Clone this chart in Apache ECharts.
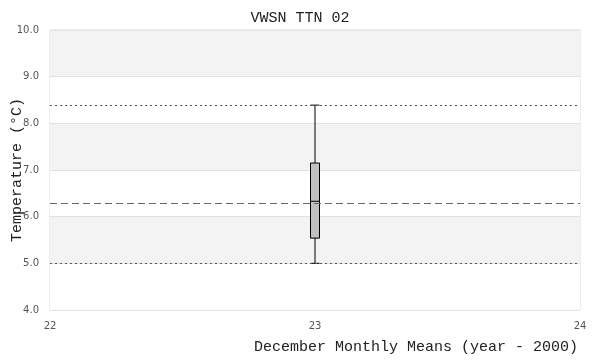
<!DOCTYPE html>
<html>
<head>
<meta charset="utf-8">
<script src="https://cdn.jsdelivr.net/npm/echarts@6/dist/echarts.min.js"></script>
<style>html,body{margin:0;padding:0;background:#fff}#c{width:600px;height:360px}</style>
</head>
<body>
<div id="c"></div>
<script>
const years = [23];
const whiskerLow = [5.0];
const q1 = [5.54];
const median = [6.33];
const q3 = [7.15];
const whiskerHigh = [8.39];
const meanValue = 6.29;
const maxValue = 8.39;
const minValue = 5.0;
const xTicks = [22, 23, 24];
const yTicks = [4, 5, 6, 7, 8, 9, 10];

const mono = '"Liberation Mono", "DejaVu Sans Mono", monospace';
const boxData = years.map((y, i) => [y, whiskerLow[i], q1[i], median[i], q3[i], whiskerHigh[i]]);

const chart = echarts.init(document.getElementById('c'), null, {renderer: 'canvas'});
chart.setOption({
  animation: false,
  backgroundColor: '#fff',
  title: {
    text: 'VWSN TTN 02',
    left: 'center',
    top: 6,
    textStyle: {fontFamily: mono, fontSize: 15, fontWeight: 'normal', color: '#222'}
  },
  grid: {left: 50, right: 20, top: 30, bottom: 50, containLabel: false, outerBoundsMode: 'none', show: true, borderColor: '#dcdcdc', borderWidth: 1, backgroundColor: 'transparent'},
  xAxis: {
    type: 'value',
    min: xTicks[0], max: xTicks[xTicks.length - 1], interval: 1,
    axisLine: {show: false},
    axisTick: {show: false},
    splitLine: {show: false},
    axisLabel: {color: '#555', fontSize: 10, margin: 11, fontFamily: '"DejaVu Sans", sans-serif'},
    name: 'December Monthly Means (year - 2000)',
    nameLocation: 'end',
    nameGap: -2,
    nameMoveOverlap: false,
    nameTextStyle: {fontFamily: mono, fontSize: 15, color: '#222', align: 'right', verticalAlign: 'top', padding: [30, 0, 0, 0]}
  },
  yAxis: {
    type: 'value',
    min: yTicks[0], max: yTicks[yTicks.length - 1], interval: 1,
    axisLine: {show: false},
    axisTick: {show: false},
    splitLine: {show: true, lineStyle: {color: '#e2e2e2', width: 1}},
    splitArea: {show: true, areaStyle: {color: ['#ffffff', '#f3f3f3']}},
    axisLabel: {color: '#555', fontSize: 10, margin: 11, fontFamily: '"DejaVu Sans", sans-serif', formatter: v => v.toFixed(1)},
    name: 'Temperature (°C)',
    nameLocation: 'middle',
    nameGap: 25,
    nameMoveOverlap: false,
    nameTextStyle: {fontFamily: mono, fontSize: 15, color: '#222'}
  },
  series: [
    {
      type: 'line',
      data: [],
      z: 1,
      silent: true,
      markLine: {
        silent: true,
        symbol: 'none',
        label: {show: false},
        data: [
          {yAxis: maxValue, lineStyle: {type: [2, 3], color: '#555', width: 1}},
          {yAxis: minValue, lineStyle: {type: [2, 3], color: '#555', width: 1}},
          {yAxis: meanValue, lineStyle: {type: [7, 4], color: '#666', width: 1}}
        ]
      }
    },
    {
      type: 'boxplot',
      z: 3,
      data: boxData,
      boxWidth: [9, 9],
      itemStyle: {color: '#c0c0c0', borderColor: '#000', borderWidth: 1}
    }
  ]
});
</script>
</body>
</html>
